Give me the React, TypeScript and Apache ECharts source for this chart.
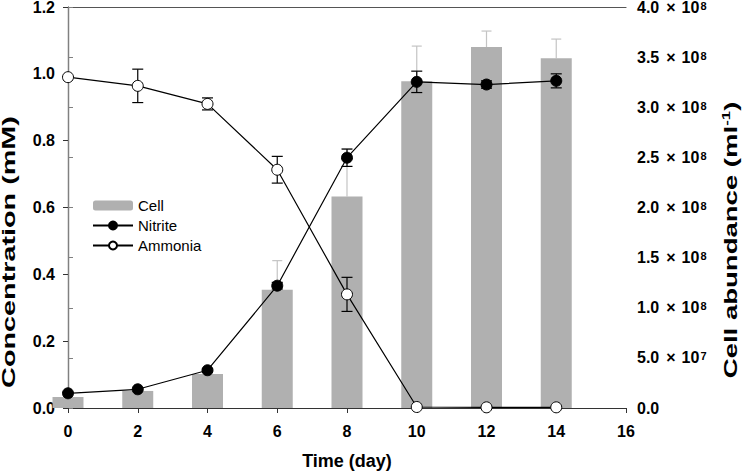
import React, { useEffect, useRef } from "react";
import * as echarts from "echarts";

const days = [0, 2, 4, 6, 8, 10, 12, 14];
const cellValues = [1.1e7, 1.7e7, 3.4e7, 1.18e8, 2.11e8, 3.26e8, 3.6e8, 3.49e8];
const cellErrors = [0, 0, 0, 2.9e7, 4.7e7, 3.5e7, 1.6e7, 1.9e7];
const nitrite = [0.044, 0.056, 0.113, 0.366, 0.749, 0.976, 0.968, 0.979];
const nitriteErr = [0, 0, 0.005, 0.01, 0.026, 0.032, 0.011, 0.021];
const ammonia = [0.99, 0.964, 0.91, 0.713, 0.34, 0.003, 0.002, 0.002];
const ammoniaErr = [0, 0.05, 0.018, 0.04, 0.051, 0, 0, 0];

const FONT = "Liberation Sans, Arial, sans-serif";

function sciLabel(v: number): string {
  if (v === 0) return "{m|0.0}";
  const exp = Math.floor(Math.log10(v) + 1e-9);
  const m = (v / Math.pow(10, exp)).toFixed(1);
  return `{m|${m}}{x|×}{m|10}{s|${exp}}`;
}

function errRender(cap: number, color: string, upOnly: boolean) {
  return (params: any, api: any) => {
    const x = api.value(0);
    const y = api.value(1);
    const e = api.value(2);
    if (!e) return null;
    const top = api.coord([x, y + e]);
    const bot = upOnly ? api.coord([x, y]) : api.coord([x, y - e]);
    const st = { stroke: color, lineWidth: 1.2 };
    const children: any[] = [
      { type: "line", shape: { x1: top[0], y1: top[1], x2: bot[0], y2: bot[1] }, style: st },
      { type: "line", shape: { x1: top[0] - cap / 2, y1: top[1], x2: top[0] + cap / 2, y2: top[1] }, style: st },
    ];
    if (!upOnly) {
      children.push({ type: "line", shape: { x1: bot[0] - cap / 2, y1: bot[1], x2: bot[0] + cap / 2, y2: bot[1] }, style: st });
    }
    return { type: "group", children };
  };
}

export default function App() {
  const ref = useRef<HTMLDivElement>(null);
  useEffect(() => {
    if (!ref.current) return;
    const chart = echarts.init(ref.current, null, { renderer: "svg" });
    const axisLabelStyle = { fontFamily: FONT, fontWeight: "bold" as const, fontSize: 16, lineHeight: 14, color: "#000" };
    const nameStyle = { fontFamily: FONT, fontWeight: "bold" as const, fontSize: 18, color: "#000" };
    chart.setOption({
      animation: false,
      grid: { left: 68, right: 116, top: 7, bottom: 64, outerBoundsMode: "none", containLabel: false },
      legend: {
        orient: "vertical",
        left: 87,
        top: 193,
        itemWidth: 40,
        itemHeight: 10,
        itemGap: 5,
        textStyle: { fontFamily: FONT, fontSize: 15, color: "#000" },
        data: ["Cell", "Nitrite", "Ammonia"],
      },
      graphic: [
        {
          type: "text",
          x: 9,
          y: 252,
          rotation: Math.PI / 2,
          scaleX: 1.6,
          style: {
            text: "Concentration (mM)",
            fontFamily: FONT,
            fontWeight: "bold",
            fontSize: 18,
            fill: "#000",
            align: "center",
            verticalAlign: "middle",
          },
        },
        {
          type: "text",
          x: 731,
          y: 240,
          rotation: Math.PI / 2,
          scaleX: 1.53,
          style: {
            text: "{n|Cell abundance (ml}{s|-1}{n|)}",
            fontFamily: FONT,
            fontWeight: "bold",
            fontSize: 18,
            fill: "#000",
            align: "center",
            verticalAlign: "middle",
            rich: {
              n: { fontFamily: FONT, fontWeight: "bold", fontSize: 18, fill: "#000" },
              s: { fontFamily: FONT, fontWeight: "bold", fontSize: 11, fill: "#000", verticalAlign: "top", padding: [0, 0, 9, 0] },
            },
          },
        },
      ],
      xAxis: [
        {
          type: "value",
          min: 0,
          max: 16,
          interval: 2,
          name: "Time (day)",
          nameLocation: "middle",
          nameGap: 44,
          nameTextStyle: nameStyle,
          axisLine: { show: true, lineStyle: { color: "#333", width: 1.2 } },
          axisTick: { show: true, inside: false, length: 5, lineStyle: { color: "#333" } },
          axisLabel: { ...axisLabelStyle, margin: 16 },
          splitLine: { show: false },
        },
        {
          type: "value",
          position: "top",
          min: 0,
          max: 16,
          axisLine: { show: true, onZero: false, lineStyle: { color: "#555", width: 1.2 } },
          axisTick: { show: false },
          axisLabel: { show: false },
          splitLine: { show: false },
        },
      ],
      yAxis: [
        {
          type: "value",
          min: 0,
          max: 1.2,
          interval: 0.2,
          axisLine: { show: true, lineStyle: { color: "#333", width: 1.2 } },
          axisTick: { show: true, inside: false, length: 5, lineStyle: { color: "#333" } },
          axisLabel: { ...axisLabelStyle, margin: 13, formatter: (v: number) => v.toFixed(1) },
          splitLine: { show: false },
        },
        {
          type: "value",
          min: 0,
          max: 4e8,
          interval: 5e7,
          position: "right",
          axisLine: { show: true, lineStyle: { color: "#808080", width: 1.2 } },
          axisTick: { show: true, inside: false, length: 5, lineStyle: { color: "#808080" } },
          axisLabel: {
            ...axisLabelStyle,
            margin: 11,
            formatter: sciLabel,
            rich: {
              m: { fontFamily: FONT, fontWeight: "bold", fontSize: 16, lineHeight: 14, color: "#000" },
              x: { fontFamily: FONT, fontWeight: "bold", fontSize: 16, lineHeight: 14, color: "#000", padding: [0, 6, 0, 7] },
              s: { fontFamily: FONT, fontWeight: "bold", fontSize: 11, lineHeight: 11, color: "#000", verticalAlign: "top", padding: [0, 0, 0, 1] },
            },
          },
          splitLine: { show: false },
        },
      ],
      series: [
        {
          name: "Cell",
          type: "bar",
          yAxisIndex: 1,
          barWidth: 31,
          itemStyle: { color: "#b0b0b0" },
          data: days.map((d, i) => [d, cellValues[i]]),
          z: 2,
        },
        {
          name: "CellErr",
          type: "custom",
          yAxisIndex: 1,
          renderItem: errRender(10, "#c4c4c4", true),
          data: days.map((d, i) => [d, cellValues[i], cellErrors[i]]),
          z: 2,
          silent: true,
        },
        {
          name: "NitriteErr",
          type: "custom",
          renderItem: errRender(11, "#000", false),
          data: days.map((d, i) => [d, nitrite[i], nitriteErr[i]]),
          z: 3,
          silent: true,
        },
        {
          name: "AmmoniaErr",
          type: "custom",
          renderItem: errRender(11, "#000", false),
          data: days.map((d, i) => [d, ammonia[i], ammoniaErr[i]]),
          z: 3,
          silent: true,
        },
        {
          name: "Nitrite",
          type: "line",
          data: days.map((d, i) => [d, nitrite[i]]),
          symbol: "circle",
          symbolSize: 11,
          showAllSymbol: true,
          lineStyle: { color: "#000", width: 1.2 },
          itemStyle: { color: "#000", borderColor: "#000", borderWidth: 1 },
          z: 4,
        },
        {
          name: "Ammonia",
          type: "line",
          data: days.map((d, i) => [d, ammonia[i]]),
          symbol: "circle",
          symbolSize: 11,
          showAllSymbol: true,
          lineStyle: { color: "#000", width: 1.2 },
          itemStyle: { color: "#fff", borderColor: "#000", borderWidth: 1 },
          z: 4,
        },
      ],
    });
    return () => chart.dispose();
  }, []);
  return <div ref={ref} style={{ width: 742, height: 472, position: "absolute", left: 0, top: 0 }} />;
}
